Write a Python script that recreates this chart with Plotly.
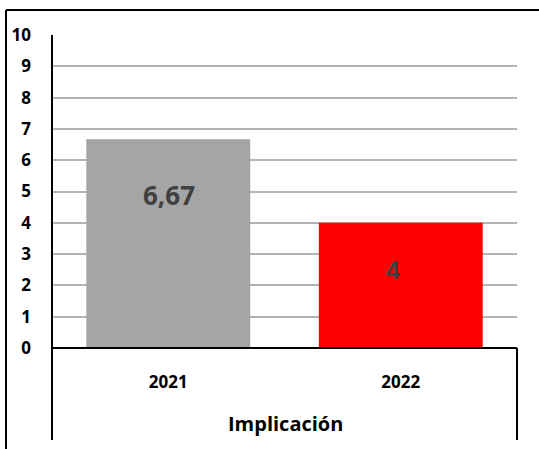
import plotly.graph_objects as go

categories = ["2021", "2022"]
values = [6.67, 4]
colors = ["#A5A5A5", "#FF0000"]
group_label = "Implicación"
y_ticks = [0, 1, 2, 3, 4, 5, 6, 7, 8, 9, 10]

W, H = 539, 449
L, R, T, B = 52, 517, 35, 348

def px_x(p):
    return (p - L) / (R - L)

def px_y(p):
    return (B - p) / (B - T)

fig = go.Figure()
fig.add_trace(go.Bar(
    x=categories, y=values,
    marker=dict(color=colors, line=dict(width=0)),
    width=0.705,
    hoverinfo="skip",
))

# data labels (placed below the bar tops, as in the original)
label_styles = [
    dict(yshift=-56, xshift=1, family="Open Sans", size=26),
    dict(yshift=-47, xshift=-8, family="Liberation Sans", size=25),
]
annotations = []
for i, (val, st) in enumerate(zip(values, label_styles)):
    annotations.append(dict(
        x=i, y=val, xref="x", yref="y",
        text=f"{val:g}".replace(".", ","),
        showarrow=False, xanchor="center", yanchor="middle",
        yshift=st["yshift"], xshift=st["xshift"],
        font=dict(family=st["family"], size=st["size"], color="#404040", weight="bold"),
    ))

annotations.append(dict(
    text=group_label, xref="paper", yref="paper", x=px_x(285), y=px_y(423),
    showarrow=False, xanchor="center", yanchor="middle",
    font=dict(family="Open Sans", size=20, color="black", weight="bold"),
))

shapes = [
    # outer chart border (left and top)
    dict(type="line", xref="paper", yref="paper", x0=px_x(6), x1=px_x(W + 5), y0=px_y(10), y1=px_y(10),
         line=dict(color="black", width=2)),
    dict(type="line", xref="paper", yref="paper", x0=px_x(6), x1=px_x(6), y0=px_y(10), y1=px_y(H + 5),
         line=dict(color="black", width=2)),
    # y axis line extended down
    dict(type="line", xref="paper", yref="paper", x0=0, x1=0, y0=1, y1=px_y(440),
         line=dict(color="black", width=2)),
    # x axis line
    dict(type="line", xref="paper", yref="paper", x0=0, x1=1, y0=0, y1=0,
         line=dict(color="black", width=2)),
    # right vertical line of group box
    dict(type="line", xref="paper", yref="paper", x0=1, x1=1, y0=0, y1=px_y(440),
         line=dict(color="black", width=2)),
]

fig.update_layout(
    width=W, height=H,
    margin=dict(l=L, r=W - R, t=T, b=H - B, autoexpand=False),
    paper_bgcolor="white", plot_bgcolor="white",
    showlegend=False,
    bargap=0.295,
    shapes=shapes,
    annotations=annotations,
    font=dict(family="Open Sans", color="black"),
    xaxis=dict(
        type="category", range=[-0.5, 1.5],
        showline=False, showgrid=False, zeroline=False,
        ticks="", ticklabelstandoff=22, fixedrange=True,
        tickfont=dict(family="Open Sans", size=17, color="black", weight="bold"),
    ),
    yaxis=dict(
        range=[0, 10], tickvals=y_ticks, showline=False, zeroline=False,
        showgrid=True, gridcolor="#B4B4B4", gridwidth=2,
        ticks="", ticklabelstandoff=20, fixedrange=True,
        tickfont=dict(family="Open Sans", size=17, color="black", weight="bold"),
    ),
)

fig.write_html(
    "out.html",
    config={"displayModeBar": False},
    post_script="document.body.style.margin='0';document.body.style.overflow='hidden';",
)
